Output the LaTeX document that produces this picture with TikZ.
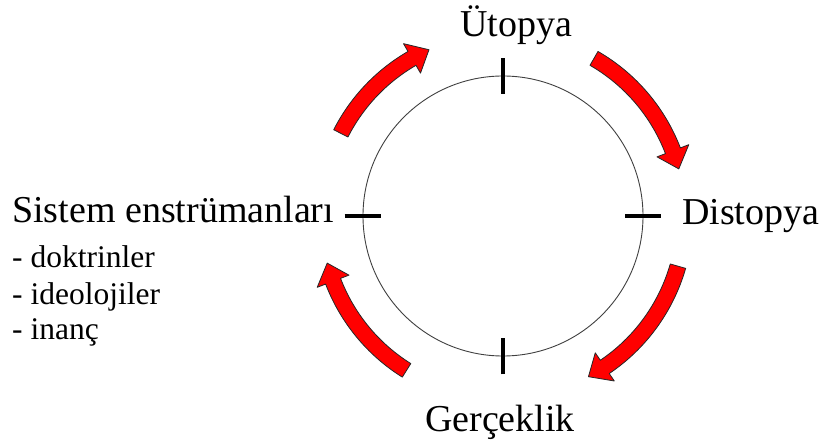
\documentclass[tikz,border=0pt]{standalone}
\usepackage{fontspec}
\setmainfont{Liberation Serif}
\newcommand\myarrow[3]{%
  \path[bigarrow] (#1:190) arc[start angle=#1, end angle=#2, radius=190]
    -- (#2:199) -- (#3:182) -- (#2:165) -- (#2:174)
    arc[start angle=#2, end angle=#1, radius=174] -- cycle;}
\begin{document}
\begin{tikzpicture}[x=1pt,y=1pt]
\tikzset{
  lbl/.style={font=\fontsize{38}{40}\selectfont, inner sep=0pt},
  sub/.style={font=\fontsize{31.5}{33}\selectfont, inner sep=0pt},
  tickmark/.style={line width=3.5pt},
  bigarrow/.style={fill=red, draw=black!85, line width=0.8pt, line join=round}
}
\useasboundingbox (0,0) rectangle (823,445);
\fill[white] (0,0) rectangle (823,445);
\coordinate (c) at (503,229);
\node[circle, draw=black!75, line width=0.9pt, minimum size=280pt, inner sep=0pt] (circ) at (c) {};
\draw[tickmark] (circ.north) ++(0,-18) -- ++(0,36);
\draw[tickmark] (circ.south) ++(0,-18) -- ++(0,36);
\draw[tickmark] (circ.west) ++(-18,0) -- ++(36,0);
\draw[tickmark] (circ.east) ++(-18,0) -- ++(36,0);
\begin{scope}[shift={(c)}]
  \myarrow{153}{120}{114}
  \myarrow{60}{21}{15}
  \myarrow{-16}{-56}{-62}
  \myarrow{238}{201}{195}
\end{scope}
\node[lbl, anchor=base] (uto) at (516,408) {Ütopya};
\node[lbl, anchor=base west] (dis) at (682,220) {Distopya};
\node[lbl, anchor=base] (ger) at (500,13) {Gerçeklik};
\node[lbl, anchor=base west] (sis) at (12,222) {Sistem enstrümanları};
\node[sub, anchor=base west] (s1) at (12,177) {- doktrinler};
\node[sub, anchor=base west] (s2) at (12,140) {- ideolojiler};
\node[sub, anchor=base west] (s3) at (12,105) {- inanç};
\end{tikzpicture}
\end{document}
